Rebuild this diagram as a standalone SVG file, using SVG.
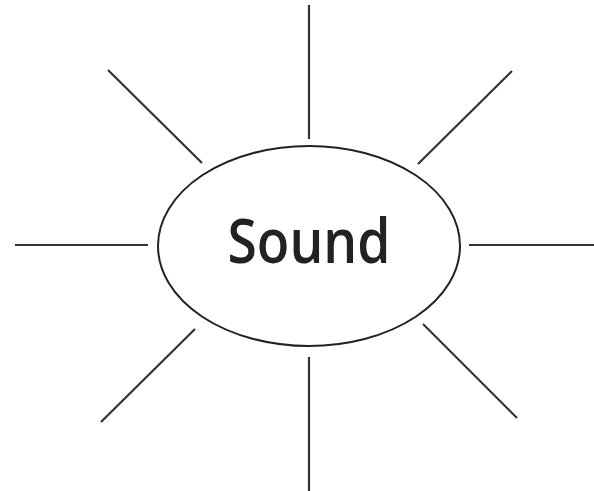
<svg xmlns="http://www.w3.org/2000/svg" width="594" height="491" viewBox="0 0 594 491">
<style>
.ray{stroke:#333;stroke-width:2.2;stroke-linecap:butt;fill:none}
.oval{stroke:#222;stroke-width:2;fill:#fff}
.lbl{font-family:"Open Sans","Liberation Sans",sans-serif;font-size:62px;font-weight:600;fill:#222;text-anchor:middle}
</style>
<rect width="594" height="491" fill="#fff"/>
<g id="connectors">
<line class="ray" x1="309" y1="5" x2="309" y2="139"/>
<line class="ray" x1="309" y1="357" x2="309" y2="491"/>
<line class="ray" x1="15" y1="245" x2="148" y2="245"/>
<line class="ray" x1="469" y1="245" x2="594" y2="245"/>
<line class="ray" x1="108" y1="70" x2="202" y2="163"/>
<line class="ray" x1="512" y1="71" x2="418" y2="164"/>
<line class="ray" x1="195" y1="329" x2="101" y2="422"/>
<line class="ray" x1="423" y1="324" x2="517" y2="418"/>
</g>
<g id="sound">
<ellipse class="oval" cx="309" cy="246" rx="151" ry="100"/>
<text class="lbl" x="309" y="263" textLength="163" lengthAdjust="spacingAndGlyphs">Sound</text>
</g>
</svg>
